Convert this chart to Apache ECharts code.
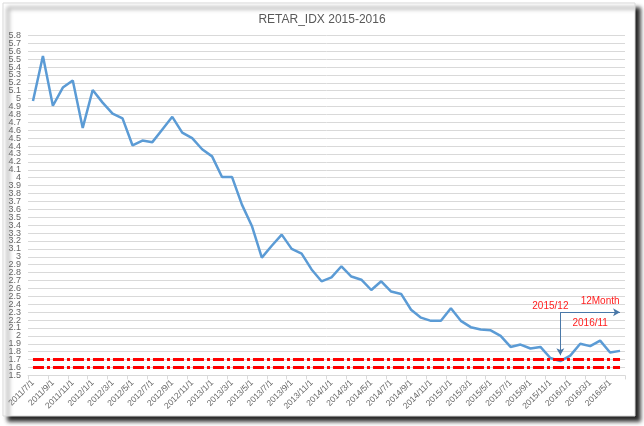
<!DOCTYPE html>
<html>
<head>
<meta charset="utf-8">
<script src="https://cdn.jsdelivr.net/npm/echarts@6/dist/echarts.min.js"></script>
<style>
html,body{margin:0;padding:0;background:#fff;}
#chart{width:644px;height:426px;}
</style>
</head>
<body>
<div id="chart"></div>
<script>
var titleText = 'RETAR_IDX 2015-2016';
var categories = [
 '2011/7/1','2011/8/1','2011/9/1','2011/10/1','2011/11/1','2011/12/1',
 '2012/1/1','2012/2/1','2012/3/1','2012/4/1','2012/5/1','2012/6/1',
 '2012/7/1','2012/8/1','2012/9/1','2012/10/1','2012/11/1','2012/12/1',
 '2013/1/1','2013/2/1','2013/3/1','2013/4/1','2013/5/1','2013/6/1',
 '2013/7/1','2013/8/1','2013/9/1','2013/10/1','2013/11/1','2013/12/1',
 '2014/1/1','2014/2/1','2014/3/1','2014/4/1','2014/5/1','2014/6/1',
 '2014/7/1','2014/8/1','2014/9/1','2014/10/1','2014/11/1','2014/12/1',
 '2015/1/1','2015/2/1','2015/3/1','2015/4/1','2015/5/1','2015/6/1',
 '2015/7/1','2015/8/1','2015/9/1','2015/10/1','2015/11/1','2015/12/1',
 '2016/1/1','2016/2/1','2016/3/1','2016/4/1','2016/5/1','2016/6/1'
];
var retarIdx = [
 4.97,5.54,4.91,5.14,5.23,4.63,
 5.11,4.95,4.81,4.75,4.41,4.47,
 4.45,4.61,4.77,4.57,4.50,4.36,
 4.27,4.01,4.01,3.66,3.39,2.99,
 3.14,3.28,3.10,3.04,2.84,2.69,
 2.74,2.88,2.75,2.71,2.58,2.69,
 2.56,2.53,2.33,2.23,2.19,2.19,
 2.35,2.19,2.11,2.08,2.07,2.00,
 1.86,1.89,1.84,1.86,1.72,1.68,
 1.75,1.90,1.87,1.94,1.79,1.81
];
var refLevels = [1.7, 1.6];
var annoTexts = ['2015/12', '12Month', '2016/11'];
var yMin = 1.5, yMax = 5.8, yStep = 0.1;

var chart = echarts.init(document.getElementById('chart'), null, {renderer:'canvas'});
var lastIdx = categories.length - 1;
var refMarkData = refLevels.map(function(v){
  return [{coord:[0, v]}, {coord:[lastIdx, v]}];
});
var arrowColor = '#4a78a8';
var fmt = function(v){ return String(Math.round(v*10)/10); };
var labelBase = {fontSize:9, color:'#666666', margin:7,
  fontFamily:'Liberation Sans, Arial, sans-serif'};
var option = {
  animation:false,
  backgroundColor:'#fff',
  graphic:[{
    type:'rect', z:-10, silent:true,
    shape:{x:3, y:3, width:632, height:413},
    style:{fill:'#fff', stroke:'#d9d9d9', lineWidth:1,
      shadowBlur:4, shadowOffsetX:5, shadowOffsetY:5, shadowColor:'rgba(0,0,0,0.85)'}
  }],
  title:{
    text:titleText, left:'center', top:9,
    textStyle:{fontFamily:'Liberation Sans, Arial, sans-serif', fontSize:12, fontWeight:'normal', color:'#595959'}
  },
  grid:{left:28, right:19, top:35.4, height:340, containLabel:false},
  xAxis:{
    type:'category', data:categories, boundaryGap:true,
    axisLine:{show:true, lineStyle:{color:'#d9d9d9'}},
    axisTick:{show:true, interval:1, length:4, lineStyle:{color:'#d9d9d9'}},
    axisLabel:{interval:1, rotate:45, fontSize:8.5, color:'#666666', margin:6,
      fontFamily:'Liberation Sans, Arial, sans-serif'},
    splitLine:{show:false}
  },
  yAxis:[{
    type:'value', min:yMin, max:yMax, interval:yStep, position:'left',
    axisLine:{show:false}, axisTick:{show:false},
    axisLabel:Object.assign({showMinLabel:false, showMaxLabel:false, formatter:fmt}, labelBase),
    splitLine:{showMinLine:true, showMaxLine:true, lineStyle:{color:'#d9d9d9', width:1}}
  },{
    type:'value', min:yMin, max:yMax, interval:yStep, position:'left', offset:0,
    axisLine:{show:false}, axisTick:{show:false}, splitLine:{show:false},
    axisLabel:Object.assign({showMinLabel:true, showMaxLabel:true,
      formatter:function(v){
        var r = Math.round(v*10)/10;
        return (r === yMin || r === yMax) ? String(r) : '';
      }}, labelBase)
  }],
  series:[
    {
      type:'line', data:retarIdx, showSymbol:false, symbol:'none',
      lineStyle:{color:'#5b9bd5', width:2.5}, itemStyle:{color:'#5b9bd5'}, z:3,
      markLine:{
        silent:true, symbol:['none','arrow'], symbolSize:[6,7], precision:3,
        label:{show:false},
        lineStyle:{color:arrowColor, width:1, type:'solid'},
        data:[
          [{coord:[53, 2.30]}, {coord:[53, 1.755]}],
          [{coord:[53, 2.30]}, {coord:[58.6, 2.30]}]
        ]
      },
      markPoint:{
        silent:true, symbol:'circle', symbolSize:0,
        label:{show:true, position:'inside', color:'#ff2020', fontSize:10,
          fontFamily:'Liberation Sans, Arial, sans-serif',
          formatter:function(p){return p.name;}},
        data:[
          {name:annoTexts[0], coord:[51.9, 2.375]},
          {name:annoTexts[1], coord:[57.0, 2.435]},
          {name:annoTexts[2], coord:[56.45, 2.16]}
        ]
      }
    },
    {
      type:'line', data:[], symbol:'none', z:4,
      markLine:{
        silent:true, symbol:['none','none'], label:{show:false},
        lineStyle:{color:'#ff0000', width:3, type:[11,3,3,3]},
        data:refMarkData
      }
    }
  ]
};
chart.setOption(option);
</script>
</body>
</html>
